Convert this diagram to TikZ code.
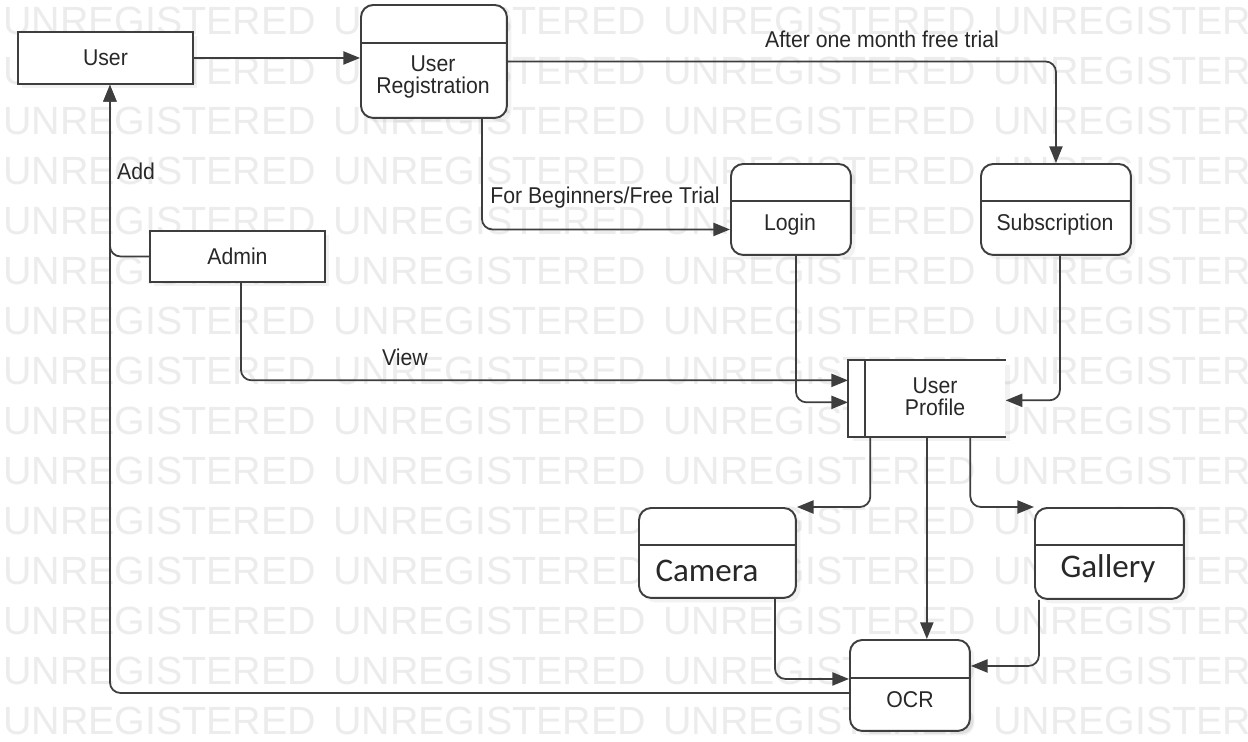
\documentclass[tikz,border=0pt]{standalone}
\usepackage{fontspec}
\newfontfamily\lblfont[FakeStretch=0.93]{Liberation Sans}
\newfontfamily\wmfont{Liberation Sans}
\newfontfamily\camfont{Carlito}
\usetikzlibrary{arrows.meta, calc, positioning, shadows}

\definecolor{linegray}{RGB}{62,62,62}
\definecolor{textgray}{RGB}{40,40,40}
\definecolor{wmgray}{RGB}{236,236,236}

\tikzset{
  px/.style={x=0.02cm, y=-0.02cm},
  box/.style={draw=linegray, line width=1.1pt, fill=white, inner sep=0pt, anchor=north west,
    drop shadow={shadow xshift=2.5pt, shadow yshift=-2.5pt, opacity=0.1},
    font=\lblfont\fontsize{13}{12.5}\selectfont, text=textgray},
  rbox/.style={box, rounded corners=7pt},
  lbl/.style={inner sep=0pt, align=center, text=textgray, font=\lblfont\fontsize{13}{12.5}\selectfont},
  camlbl/.style={inner sep=0pt, text=textgray, font=\camfont\fontsize{18.8}{20}\selectfont},
  boxline/.style={draw=linegray, line width=1.1pt},
  flow/.style={draw=linegray, line width=1pt, rounded corners=6pt, -{Triangle[length=9.5pt,width=7.5pt]}},
  wmark/.style={inner sep=0pt, anchor=west, text=wmgray, font=\wmfont\fontsize{22.4}{24}\selectfont}
}

\begin{document}
\begin{tikzpicture}[px]
    \useasboundingbox (0,0) rectangle (1248,741);
    \clip (0,0) rectangle (1248,741);
    \fill[white] (0,0) rectangle (1248,741);

    % watermark
    \foreach \r in {0,...,14}{
      \foreach \c in {0,...,3}{
        \node[wmark] (wm\r\c) at ({3+330*\c},{21+50*\r}) {UNREGISTERED};
      }
    }

    \node[box, minimum width=3.5cm, minimum height=1.04cm] (user) at (17,31) {User};
    \node[rbox, minimum width=2.92cm, minimum height=2.26cm] (reg) at (360,4) {};
    \node[rbox, minimum width=2.4cm, minimum height=1.82cm] (login) at (730,163) {};
    \node[rbox, minimum width=3.0cm, minimum height=1.82cm] (sub) at (980,163) {};
    \node[box, minimum width=3.5cm, minimum height=1.02cm] (admin) at (149,230) {Admin};
    \node[inner sep=0pt, anchor=north west, fill=white, minimum width=3.14cm, minimum height=1.52cm,
      drop shadow={shadow xshift=2.5pt, shadow yshift=-2.5pt, opacity=0.1}] (profile) at (848,360) {};
    \node[rbox, minimum width=3.14cm, minimum height=1.8cm] (camera) at (638,507) {};
    \node[rbox, minimum width=2.98cm, minimum height=1.82cm] (gallery) at (1034,507) {};
    \node[rbox, minimum width=2.4cm, minimum height=1.82cm] (ocr) at (849,639) {};

    \foreach \n/\f in {reg/0.336, login/0.41, sub/0.41, camera/0.41, gallery/0.41, ocr/0.42}
      \draw[boxline] ($(\n.north west)!\f!(\n.south west)$) -- ($(\n.north east)!\f!(\n.south east)$);

    \draw[boxline] (profile.north east) -- (profile.north west) -- (profile.south west) -- (profile.south east);
    \draw[boxline] ($(profile.north west)+(17,0)$) -- ($(profile.south west)+(17,0)$);

    \node[lbl] (regtext) at (433,77) {User\\Registration};
    \node[lbl] (logintext) at (790,225) {Login};
    \node[lbl] (subtext) at (1055,225) {Subscription};
    \node[lbl] (profiletext) at (935,397) {User\\Profile};
    \node[camlbl] (cameratext) at (707,571) {Camera};
    \node[camlbl] (gallerytext) at (1108,569) {Gallery};
    \node[lbl] (ocrtext) at (910,700) {OCR};

    \draw[flow] (user.east) -- (user.east -| reg.west);
    \draw[flow] (reg.east) -| (sub.north);
    \draw[flow] ($(reg.south)+(48,0)$) |- ($(login.west)+(0,20)$);
    \draw[flow] (admin.west) -| ($(user.south)+(4.5,0)$);
    \draw[flow] ($(ocr.west)+(0,7.5)$) -| ($(user.south)+(4.5,0)$);
    \draw[flow] ($(admin.south)+(3.5,0)$) |- ($(profile.west)+(0,-18)$);
    \draw[flow] ($(login.south)+(5,0)$) |- ($(profile.west)+(0,4)$);
    \draw[flow] ($(sub.south)+(4,0)$) |- ($(profile.east)+(0,2)$);
    \draw[flow] ($(profile.south)+(-56.5,0)$) |- (camera.north east);
    \draw[flow] (profile.south) -- (profile.south |- ocr.north);
    \draw[flow] ($(profile.south)+(43.5,0)$) |- (gallery.north west);
    \draw[flow] ($(camera.south)+(57.5,0)$) |- ($(ocr.west)+(0,-6.5)$);
    \draw[flow] ($(gallery.south)+(-70.5,0)$) |- ($(ocr.east)+(0,-19.5)$);

    \node[lbl] (aftertext) at (882,39) {After one month free trial};
    \node[lbl] (begintext) at (605,198) {For Beginners/Free Trial};
    \node[lbl] (addtext) at (136,171) {Add};
    \node[lbl] (viewtext) at (405,357) {View};
\end{tikzpicture}
\end{document}
